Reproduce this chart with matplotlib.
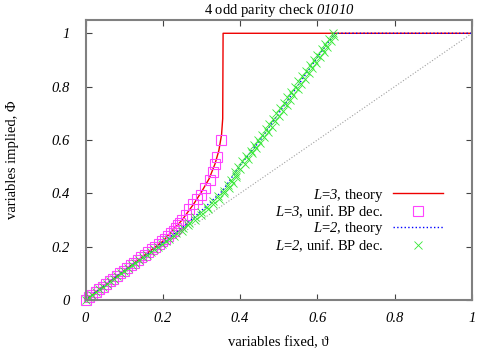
import numpy as np
import matplotlib
matplotlib.use("Agg")
import matplotlib.pyplot as plt

plt.rcParams['font.family'] = ['Liberation Serif', 'DejaVu Serif']
plt.rcParams['mathtext.fontset'] = 'custom'
plt.rcParams['mathtext.rm'] = 'Liberation Serif:italic'
plt.rcParams['mathtext.it'] = 'Liberation Serif:italic'
plt.rcParams['font.size'] = 10.5

# L=3 theory curve
x3_th = [0, 0.05, 0.1, 0.15, 0.2, 0.25, 0.28, 0.30, 0.32, 0.335, 0.345, 0.352, 0.355, 0.356, 1.0]
y3_th = [0, 0.055, 0.11, 0.165, 0.22, 0.30, 0.36, 0.405, 0.455, 0.51, 0.56, 0.62, 0.68, 1.0, 1.0]

# L=3 uniform BP decimation
y3_bp = [0.00, 0.01, 0.02, 0.03, 0.04, 0.05, 0.06, 0.07, 0.08, 0.09, 0.10, 0.11, 0.12, 0.13,
         0.14, 0.15, 0.16, 0.17, 0.18, 0.19, 0.20, 0.21, 0.22, 0.23, 0.24, 0.25, 0.26, 0.27,
         0.28, 0.29, 0.30, 0.32, 0.34, 0.36, 0.38, 0.395, 0.42, 0.45, 0.48, 0.51, 0.535, 0.60]
x3_bp = [0.000, 0.009, 0.018, 0.027, 0.036, 0.045, 0.054, 0.063, 0.072, 0.081, 0.090, 0.099,
         0.108, 0.117, 0.126, 0.135, 0.144, 0.153, 0.162, 0.171, 0.180, 0.189, 0.197, 0.206,
         0.214, 0.221, 0.228, 0.234, 0.240, 0.245, 0.250, 0.260, 0.269, 0.279, 0.289, 0.298,
         0.310, 0.322, 0.330, 0.336, 0.341, 0.350]

# L=2 theory curve
x2_th = [0, 0.05, 0.1, 0.15, 0.2, 0.25, 0.3, 0.355, 0.4, 0.45, 0.5, 0.55, 0.6, 0.645, 1.0]
y2_th = [0, 0.055, 0.11, 0.16, 0.215, 0.27, 0.335, 0.41, 0.505, 0.595, 0.70, 0.805, 0.91, 1.0, 1.0]

# L=2 uniform BP decimation
y2_bp = [0.00, 0.01, 0.02, 0.03, 0.04, 0.05, 0.06, 0.07, 0.08, 0.09, 0.10, 0.11, 0.12, 0.13,
         0.14, 0.15, 0.16, 0.17, 0.18, 0.19, 0.20, 0.21, 0.22,
         0.23, 0.24, 0.25, 0.26, 0.27, 0.28, 0.29, 0.30, 0.31, 0.32, 0.33, 0.34, 0.35, 0.36,
         0.37, 0.38, 0.39, 0.40, 0.41, 0.42, 0.43, 0.44, 0.45, 0.46,
         0.47, 0.48, 0.49, 0.50, 0.51, 0.52, 0.53, 0.54, 0.55, 0.56, 0.57, 0.58, 0.59, 0.60,
         0.61, 0.62, 0.63, 0.64, 0.65, 0.66, 0.67, 0.68, 0.69, 0.70, 0.71, 0.72, 0.73, 0.74,
         0.75, 0.76, 0.77, 0.78, 0.79, 0.80, 0.81, 0.82, 0.83, 0.84, 0.85, 0.86, 0.87, 0.88,
         0.89, 0.90, 0.91, 0.92, 0.93, 0.94, 0.95, 0.96, 0.97, 0.98, 0.99, 1.00]
x2_bp = [0.000, 0.009, 0.018, 0.027, 0.036, 0.046, 0.055, 0.064, 0.073, 0.082, 0.091, 0.100,
         0.110, 0.120, 0.129, 0.139, 0.149, 0.159, 0.169, 0.178, 0.188, 0.198, 0.207,
         0.216, 0.230, 0.234, 0.249, 0.252, 0.266, 0.267, 0.283, 0.283, 0.300, 0.299, 0.316,
         0.314, 0.331, 0.330, 0.346, 0.344, 0.359, 0.358, 0.372, 0.368, 0.381, 0.377, 0.390,
         0.390, 0.386, 0.399, 0.395, 0.412, 0.406, 0.420, 0.414, 0.432, 0.428, 0.442, 0.437,
         0.452, 0.447, 0.462, 0.456, 0.472, 0.466, 0.482, 0.476, 0.491, 0.485, 0.500, 0.494,
         0.510, 0.504, 0.521, 0.514, 0.530, 0.522, 0.538, 0.532, 0.550, 0.542, 0.558, 0.551,
         0.568, 0.560, 0.578, 0.571, 0.586, 0.580, 0.596, 0.590, 0.606, 0.600, 0.616, 0.611,
         0.625, 0.620, 0.636, 0.630, 0.642, 0.640]

ticks = [0, 0.2, 0.4, 0.6, 0.8, 1]
tick_labels = ['0', '0.2', '0.4', '0.6', '0.8', '1']

fig = plt.figure(figsize=(5, 3.5), dpi=100)
ax = fig.add_axes([0.171, 0.143, 0.773, 0.8])

ax.plot([0, 1], [0, 1], color='#a0a0a0', ls=':', lw=0.8)
ax.plot(x3_th, y3_th, color='#ee0000', lw=1.0, label=r'$\mathrm{L}$=$\mathrm{3}$, theory')
ax.plot(x3_bp, y3_bp, ls='none', marker='s', ms=6.5, mfc='none', mec='#ff44ff', mew=0.8,
        clip_on=False, label=r'$\mathrm{L}$=$\mathrm{3}$, unif. BP dec.')
ax.plot(x2_th, y2_th, color='#0000ff', ls=':', lw=1.0, label=r'$\mathrm{L}$=$\mathrm{2}$, theory')
ax.plot(x2_bp, y2_bp, ls='none', marker='x', ms=5.5, mec='#33e833', mew=0.6,
        clip_on=False, label=r'$\mathrm{L}$=$\mathrm{2}$, unif. BP dec.')

ax.set_xlim(0, 1)
ax.set_ylim(0, 1.05)
ax.set_xticks(ticks)
ax.set_xticklabels(tick_labels, style='italic')
ax.set_yticks(ticks)
ax.set_yticklabels(tick_labels, style='italic')
ax.tick_params(direction='in', length=4, width=0.8, color='#444444',
               top=True, right=True, labelsize=10.5)
ax.tick_params(axis='x', pad=9)
ax.tick_params(axis='y', pad=11)
for s in ax.spines.values():
    s.set_color('#808080')
    s.set_linewidth(1.5)

ax.set_title(r'4 odd parity check $\mathrm{01010}$', fontsize=10.5, pad=4)
ax.set_xlabel('variables fixed, ϑ', labelpad=8)
ax.set_ylabel('variables implied, Φ', labelpad=24)

ax.legend(loc='upper right', bbox_to_anchor=(0.925, 0.405), frameon=False,
          markerfirst=False, handlelength=3.4, handletextpad=0.7,
          labelspacing=0.0, borderpad=0, borderaxespad=0, fontsize=10.5, numpoints=1)

fig.savefig('out.png', dpi=100)
